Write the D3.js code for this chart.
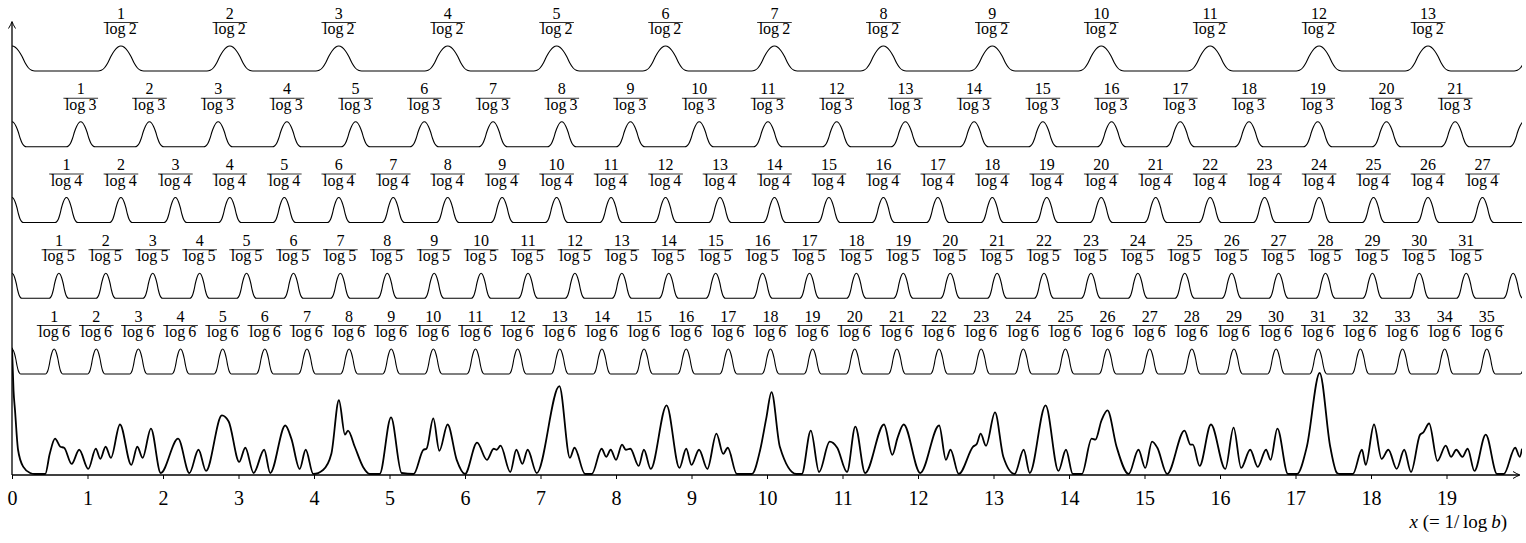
<!DOCTYPE html>
<html>
<head>
<meta charset="utf-8">
<script src="https://cdn.jsdelivr.net/npm/d3@7"></script>
<style>
  body { margin: 0; background: #fff; }
  text { font-family: "Liberation Serif", "DejaVu Serif", serif; fill: #000; }
</style>
</head>
<body>
<script>
var width = 1526, height = 543;

// bases of the rows, top to bottom
var bases = [2, 3, 4, 5, 6];

// numerators printed above the bumps (k / log b)
var numerators2 = [1, 2, 3, 4, 5, 6, 7, 8, 9, 10, 11, 12, 13];
var numerators3 = [1, 2, 3, 4, 5, 6, 7, 8, 9, 10, 11, 12, 13, 14, 15, 16, 17, 18, 19, 20, 21];
var numerators4 = [1, 2, 3, 4, 5, 6, 7, 8, 9, 10, 11, 12, 13, 14, 15, 16, 17, 18, 19, 20, 21, 22, 23, 24, 25, 26, 27];
var numerators5 = [1, 2, 3, 4, 5, 6, 7, 8, 9, 10, 11, 12, 13, 14, 15, 16, 17, 18, 19, 20, 21, 22, 23, 24, 25, 26, 27, 28, 29, 30, 31];
var numerators6 = [1, 2, 3, 4, 5, 6, 7, 8, 9, 10, 11, 12, 13, 14, 15, 16, 17, 18, 19, 20, 21, 22, 23, 24, 25, 26, 27, 28, 29, 30, 31, 32, 33, 34, 35];
var rowNumerators = [numerators2, numerators3, numerators4, numerators5, numerators6];

var bumpOffsets = [0, 0.03, 0.06, 0.09, 0.12, 0.15, 0.18, 0.21];
var bumpHeights = [1, 0.95, 0.81, 0.6, 0.33, 0.13, 0.03, 0];

// bottom curve
var sumX = [0, 0.02, 0.04, 0.08, 0.15, 0.24, 0.30, 0.44, 0.50, 0.57, 0.64, 0.69, 0.79, 0.89, 1.01, 1.11, 1.17, 1.24, 1.31, 1.43,
  1.58, 1.66, 1.73, 1.84, 1.97, 2.20, 2.35, 2.47, 2.57, 2.78, 2.87, 3.01, 3.09, 3.20, 3.34, 3.42, 3.62, 3.70, 3.81, 3.89,
  3.99, 4.12, 4.23, 4.33, 4.41, 4.45, 4.54, 4.65, 4.74, 4.87, 5.02, 5.16, 5.32, 5.45, 5.49, 5.58, 5.66, 5.77, 5.89, 6.00,
  6.16, 6.29, 6.38, 6.42, 6.47, 6.60, 6.68, 6.76, 6.83, 6.95, 7.25, 7.39, 7.45, 7.59, 7.68, 7.81, 7.87, 7.93, 8.00, 8.08,
  8.13, 8.19, 8.30, 8.37, 8.46, 8.67, 8.84, 8.93, 9.00, 9.10, 9.21, 9.33, 9.42, 9.48, 9.60, 9.80, 9.91, 9.99, 10.06, 10.17,
  10.39, 10.46, 10.58, 10.69, 10.83, 10.93, 11.06, 11.17, 11.30, 11.55, 11.66, 11.73, 11.81, 12.03, 12.28, 12.37, 12.43, 12.54, 12.73, 12.78,
  12.83, 12.90, 13.02, 13.13, 13.28, 13.40, 13.48, 13.69, 13.86, 13.96, 14.05, 14.17, 14.30, 14.35, 14.43, 14.51, 14.63, 14.79, 14.92, 15.01,
  15.10, 15.17, 15.30, 15.53, 15.61, 15.64, 15.73, 15.88, 16.07, 16.18, 16.28, 16.40, 16.50, 16.61, 16.67, 16.76, 16.90, 17.02, 17.15, 17.32,
  17.46, 17.55, 17.59, 17.76, 17.88, 17.93, 18.04, 18.14, 18.23, 18.34, 18.44, 18.53, 18.65, 18.69, 18.77, 18.88, 18.99, 19.06, 19.13, 19.21,
  19.28, 19.37, 19.52, 19.67, 19.76, 19.91, 19.97, 20.00];
var sumY = [1.25, 0.83, 0.63, 0.24, 0.07, 0.01, 0, 0, 0.20, 0.35, 0.27, 0.26, 0.10, 0.24, 0.05, 0.25, 0.15, 0.27, 0.16, 0.49,
  0.09, 0.27, 0.16, 0.45, 0.01, 0.35, 0.01, 0.24, 0.03, 0.58, 0.52, 0.12, 0.26, 0.01, 0.24, 0.01, 0.48, 0.35, 0.05, 0.24,
  0, 0.04, 0.20, 0.73, 0.39, 0.43, 0.27, 0.07, 0, 0, 0.56, 0.01, 0, 0.24, 0.25, 0.55, 0.23, 0.49, 0.14, 0,
  0.31, 0.14, 0.25, 0.24, 0.28, 0.02, 0.24, 0.10, 0.24, 0.01, 0.87, 0.16, 0.26, 0, 0, 0.25, 0.17, 0.24, 0.14, 0.29,
  0.24, 0.25, 0.08, 0.24, 0.05, 0.68, 0.06, 0.25, 0.09, 0.24, 0.05, 0.40, 0.20, 0.26, 0, 0, 0.24, 0.55, 0.81, 0.27,
  0, 0, 0.43, 0.02, 0.32, 0.26, 0.02, 0.47, 0.01, 0.49, 0.19, 0.36, 0.49, 0.01, 0.48, 0.14, 0.24, 0, 0.27, 0.30,
  0.40, 0.28, 0.61, 0.17, 0, 0.24, 0.01, 0.68, 0.03, 0.24, 0, 0, 0.35, 0.34, 0.53, 0.63, 0.27, 0, 0.24, 0.06,
  0.32, 0.26, 0, 0.43, 0.29, 0.29, 0.08, 0.49, 0.05, 0.46, 0.06, 0.24, 0.07, 0.24, 0.14, 0.45, 0, 0, 0.27, 1.00,
  0.27, 0.01, 0, 0, 0.24, 0.09, 0.49, 0.15, 0.24, 0.05, 0.24, 0.02, 0.39, 0.41, 0.50, 0.13, 0.28, 0.17, 0.24, 0.17,
  0.25, 0.03, 0.39, 0, 0, 0.26, 0.17, 0.25];

var xTicks = [0, 1, 2, 3, 4, 5, 6, 7, 8, 9, 10, 11, 12, 13, 14, 15, 16, 17, 18, 19];

var serif = "'Liberation Serif', 'DejaVu Serif', serif";

var svg = d3.select("body").append("svg")
    .attr("width", width)
    .attr("height", height);

var xScale = d3.scaleLinear().domain([0, 20]).range([12, 1522]);
var rowScale = d3.scalePoint().domain(bases).range([71, 374]);   // baseline of each row
var bumpScale = d3.scaleLinear().domain([0, 1]).range([0, -25]); // bump height
var yScale = d3.scaleLinear().domain([0, 1]).range([474, 373]);   // bottom curve

svg.append("defs").append("clipPath")
    .attr("id", "plotClip")
    .append("rect")
    .attr("x", xScale(0))
    .attr("y", 0)
    .attr("width", xScale(20) - xScale(0))
    .attr("height", height);

// full bump profile, mirrored
var side = bumpOffsets.map(function (o, j) { return {u: o, h: bumpHeights[j]}; });
var profile = side.slice(1).reverse().map(function (p) { return {u: -p.u, h: p.h}; }).concat(side);

var rowLine = d3.line()
    .x(function (d) { return xScale(d.x); })
    .y(function (d) { return d.y; })
    .curve(d3.curveMonotoneX);

bases.forEach(function (b, i) {
    var lnb = Math.log(b),
        base = rowScale(b),
        kmax = rowNumerators[i].length + 1,
        pts = [];
    for (var k = 0; k <= kmax; k++) {
        profile.forEach(function (p) {
            pts.push({x: (k + p.u) / lnb, y: base + bumpScale(p.h)});
        });
    }

    svg.append("path")
        .datum(pts)
        .attr("clip-path", "url(#plotClip)")
        .attr("fill", "none")
        .attr("stroke", "#000")
        .attr("stroke-width", 1.1)
        .attr("d", rowLine);

    // fraction labels k / log b
    var barY = base - 48.5;
    var lab = svg.append("g").selectAll("g")
        .data(rowNumerators[i])
        .enter().append("g")
        .attr("transform", function (k) { return "translate(" + xScale(k / lnb) + "," + barY + ")"; });

    lab.append("text")
        .attr("class", "num")
        .attr("y", -4)
        .attr("text-anchor", "middle")
        .style("font-family", serif)
        .style("font-size", "16px")
        .text(function (k) { return k; });

    lab.append("text")
        .attr("class", "den")
        .attr("y", 11.5)
        .attr("text-anchor", "middle")
        .style("font-family", serif)
        .style("font-size", "16px")
        .text("log\u2009" + b);

    lab.each(function () {
        var g = d3.select(this),
            w = Math.max(g.select(".num").node().getComputedTextLength(),
                         g.select(".den").node().getComputedTextLength()) + 3;
        g.append("line")
            .attr("x1", -w / 2).attr("x2", w / 2)
            .attr("y1", 0).attr("y2", 0)
            .attr("stroke", "#000")
            .attr("stroke-width", 0.8);
    });
});

// bottom curve
var sumData = sumX.map(function (x, j) { return {x: x, y: sumY[j]}; });
svg.append("path")
    .datum(sumData)
    .attr("clip-path", "url(#plotClip)")
    .attr("fill", "none")
    .attr("stroke", "#000")
    .attr("stroke-width", 1.8)
    .attr("stroke-linejoin", "round")
    .attr("d", d3.line()
        .x(function (d) { return xScale(d.x); })
        .y(function (d) { return yScale(d.y); })
        .curve(d3.curveMonotoneX));

// x axis
var axisY = 475;
var xAxis = d3.axisBottom(xScale)
    .tickValues(xTicks)
    .tickSize(4)
    .tickSizeOuter(0)
    .tickPadding(12);

var gx = svg.append("g")
    .attr("transform", "translate(0," + axisY + ")")
    .call(xAxis);
gx.select(".domain").remove();
gx.selectAll(".tick line").attr("stroke", "#000").attr("stroke-width", 1);
gx.selectAll(".tick text")
    .style("font-family", serif)
    .style("font-size", "20px")
    .attr("fill", "#000");

var x0 = xScale(0), xEnd = 1520;
svg.append("line")
    .attr("x1", x0).attr("x2", xEnd - 1)
    .attr("y1", axisY).attr("y2", axisY)
    .attr("stroke", "#000").attr("stroke-width", 1.3);
svg.append("path")
    .attr("d", "M" + (xEnd - 7) + "," + (axisY - 3.5) + " Q" + (xEnd - 3) + "," + (axisY - 1) + " " + xEnd + "," + axisY +
               " Q" + (xEnd - 3) + "," + (axisY + 1) + " " + (xEnd - 7) + "," + (axisY + 3.5))
    .attr("fill", "none").attr("stroke", "#000").attr("stroke-width", 1);

// y axis
var yTop = 21.5;
svg.append("line")
    .attr("x1", x0).attr("x2", x0)
    .attr("y1", axisY).attr("y2", yTop + 1)
    .attr("stroke", "#000").attr("stroke-width", 1.3);
svg.append("path")
    .attr("d", "M" + (x0 - 3.5) + "," + (yTop + 7) + " Q" + (x0 - 1) + "," + (yTop + 3) + " " + x0 + "," + yTop +
               " Q" + (x0 + 1) + "," + (yTop + 3) + " " + (x0 + 3.5) + "," + (yTop + 7))
    .attr("fill", "none").attr("stroke", "#000").attr("stroke-width", 1);

// axis label
var xl = svg.append("text")
    .attr("x", 1507)
    .attr("y", 528)
    .attr("text-anchor", "end")
    .style("font-family", serif)
    .style("font-size", "19px");
xl.append("tspan").style("font-style", "italic").text("x");
xl.append("tspan").text(" (= 1/\u2009log\u2009");
xl.append("tspan").style("font-style", "italic").text("b");
xl.append("tspan").text(")");
</script>
</body>
</html>
